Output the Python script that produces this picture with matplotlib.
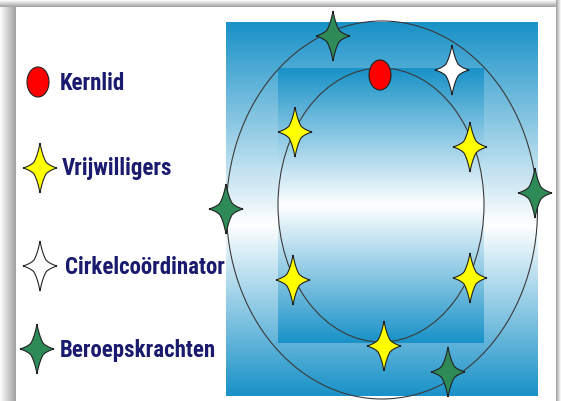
import numpy as np
import matplotlib.pyplot as plt
from matplotlib.patches import Rectangle, Ellipse, Polygon
from matplotlib.colors import LinearSegmentedColormap

# diagram contents
roles = ['Kernlid', 'Vrijwilligers', 'Cirkelcoördinator', 'Beroepskrachten']
role_colors = ['#ff0000', '#ffff00', '#ffffff', '#2e8b57']
legend_y = [82, 168, 266, 349]

# members placed around the circles (pixel positions)
member_x = [380, 333, 452, 295, 470, 535, 226, 293, 470, 384, 448]
member_y = [75, 36, 70, 132, 147, 193, 209, 280, 278, 346, 372]
member_role = [0, 3, 2, 1, 1, 3, 3, 1, 1, 1, 3]

W, H = 561, 401

fig = plt.figure(figsize=(W / 100, H / 100), dpi=100)
fig.patch.set_facecolor('white')
ax = fig.add_axes([0, 0, 1, 1])
ax.set_xlim(0, W)
ax.set_ylim(H, 0)
ax.axis('off')

# card shadow: grey fading towards the outer edge
shade = LinearSegmentedColormap.from_list('sh', ['white', '#a0a0a0'])
ax.imshow(np.linspace(0, 1, 50)[None, :], cmap=shade, extent=(0, 16, H, 0),
          aspect='auto', zorder=0)
ax.imshow(np.linspace(0, 1, 50)[:, None], cmap=shade, extent=(0, W, 7, 0),
          aspect='auto', zorder=0)
ax.imshow(np.linspace(1, 0, 50)[None, :], cmap=shade, extent=(556, W, H, 0),
          aspect='auto', zorder=0)
ax.add_patch(Rectangle((16, 7), 540, 400, facecolor='white', edgecolor='none', zorder=1))

# gradient backgrounds
blue = '#1a92c8'
cmap = LinearSegmentedColormap.from_list('bw', [blue, 'white', blue])

def gradient_box(x0, x1, y0, y1, mid, z):
    ys = np.linspace(y0, y1, 200)
    t = np.where(ys < mid, 0.5 * (ys - y0) / (mid - y0), 0.5 + 0.5 * (ys - mid) / (y1 - mid))
    ax.imshow(t[:, None], cmap=cmap, vmin=0, vmax=1, extent=(x0, x1, y1, y0),
              aspect='auto', zorder=z, interpolation='bilinear')

gradient_box(226, 538, 22, 396, 225, 2)
gradient_box(278, 484, 68, 343, 205, 3)

# circles
ax.add_patch(Ellipse((382, 210), 311, 378, facecolor='none', edgecolor='#3a3a3a', lw=0.8, zorder=4))
ax.add_patch(Ellipse((381, 205), 206, 274, facecolor='none', edgecolor='#3a3a3a', lw=0.8, zorder=4))

def star(x, y, color, hw=17, hh=25, r=6):
    tips = [(0, -hh), (hw, 0), (0, hh), (-hw, 0)]
    inner = [(r, -r), (r, r), (-r, r), (-r, -r)]
    pts = []
    s = np.linspace(0, 1, 12)[:, None]
    for k in range(4):
        t0 = np.array(tips[k])
        t1 = np.array(tips[(k + 1) % 4])
        m = np.array(inner[k])
        for a, b in ((t0, m), (m, t1)):
            c = 0.5 * (a + b) * 0.8  # pull edge inward a bit
            pts.append((1 - s) ** 2 * a + 2 * (1 - s) * s * c + s ** 2 * b)
    pts = np.vstack(pts) + [x, y]
    ax.add_patch(Polygon(pts, closed=True, facecolor=color,
                         edgecolor='#222222', lw=0.8, zorder=6))

def symbol(x, y, role):
    if role == 0:
        ax.add_patch(Ellipse((x, y), 22, 30, facecolor=role_colors[0],
                             edgecolor='#222222', lw=0.8, zorder=6))
    else:
        star(x, y, role_colors[role])

for x, y, r in zip(member_x, member_y, member_role):
    symbol(x, y, r)

# legend
legend_x = [38, 40, 40, 37]
text_x = [60, 62, 65, 60]
for i, name in enumerate(roles):
    symbol(legend_x[i], legend_y[i], i)
    ax.text(text_x[i], legend_y[i] + 1, name, ha='left', va='center', fontsize=16.5,
            fontweight='bold', color='#1a1a6e', zorder=7,
            family=['Roboto Condensed', 'DejaVu Sans'])

fig.savefig('out.png', dpi=100)
